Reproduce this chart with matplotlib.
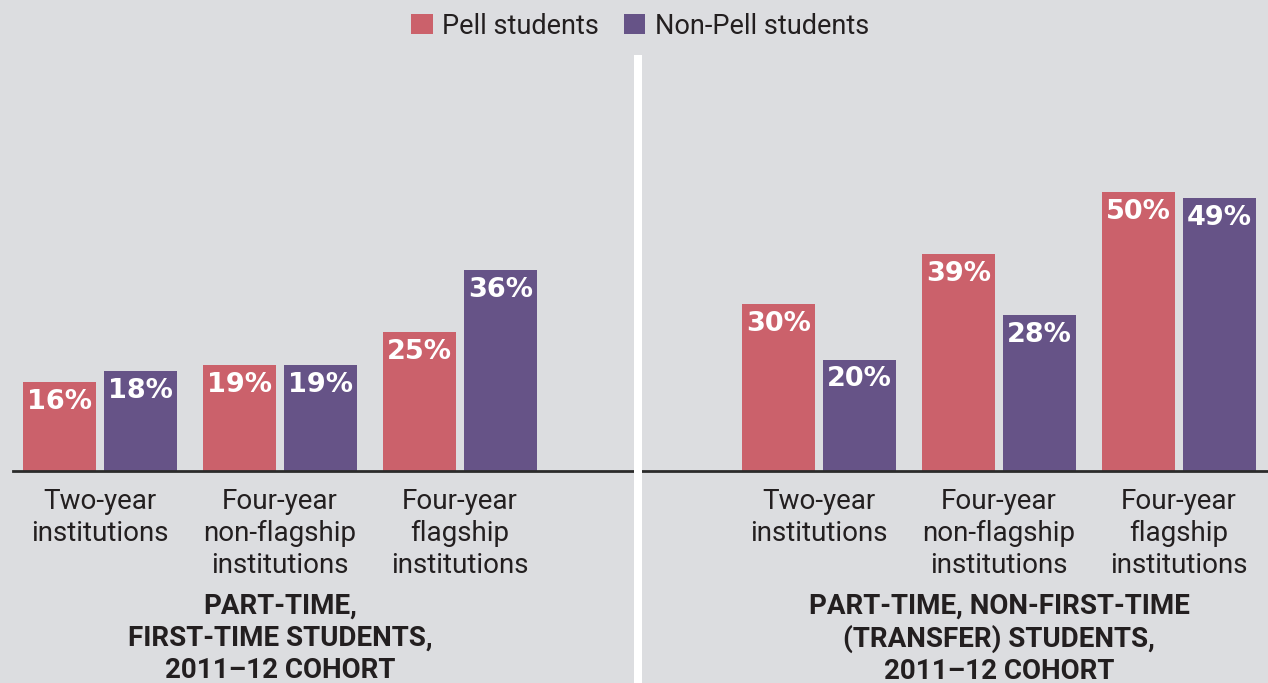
import matplotlib
matplotlib.use("Agg")
import matplotlib.pyplot as plt
from matplotlib.patches import Patch, Rectangle

# ---- data ----
categories = ["Two-year\ninstitutions",
              "Four-year\nnon-flagship\ninstitutions",
              "Four-year\nflagship\ninstitutions"]
panel_titles = ["PART-TIME,\nFIRST-TIME STUDENTS,\n2011\u201312 COHORT",
                "PART-TIME, NON-FIRST-TIME\n(TRANSFER) STUDENTS,\n2011\u201312 COHORT"]
series_names = ["Pell students", "Non-Pell students"]
pell_first_time = [16, 19, 25]
nonpell_first_time = [18, 19, 36]
pell_transfer = [30, 39, 50]
nonpell_transfer = [20, 28, 49]

# ---- style ----
BG = "#dcdde0"
PELL = "#cb616b"
NONPELL = "#665387"
TXT = "#231f20"
FONT = ["Roboto", "DejaVu Sans"]
plt.rcParams["font.family"] = FONT

W, H = 1268, 683
fig = plt.figure(figsize=(W / 100, H / 100), dpi=100, facecolor=BG)

base_px = 471
top_px = 55
px_per_unit = 5.575
ytop = (base_px - top_px) / px_per_unit
group_px = 180.0
bar_w = 73 / group_px
off = 40.5 / group_px

panels = [
    dict(x0=13, x1=634, c0=100, pell=pell_first_time, non=nonpell_first_time, title=panel_titles[0]),
    dict(x0=642, x1=1268, c0=819, pell=pell_transfer, non=nonpell_transfer, title=panel_titles[1]),
]

for p in panels:
    ax = fig.add_axes([p["x0"] / W, (H - base_px) / H,
                       (p["x1"] - p["x0"]) / W, (base_px - top_px) / H])
    ax.set_facecolor(BG)
    ax.patch.set_alpha(0)
    ax.set_xlim(-(p["c0"] - p["x0"]) / group_px, (p["x1"] - p["c0"]) / group_px)
    ax.set_ylim(0, ytop)
    xs = list(range(len(categories)))
    b1 = ax.bar([x - off for x in xs], p["pell"], width=bar_w, color=PELL, zorder=2)
    b2 = ax.bar([x + off for x in xs], p["non"], width=bar_w, color=NONPELL, zorder=2)
    for bars, vals in ((b1, p["pell"]), (b2, p["non"])):
        for rect, v in zip(bars, vals):
            ax.annotate(f"{v}%", xy=(rect.get_x() + rect.get_width() / 2, v),
                        xytext=(0, -5), textcoords="offset points",
                        ha="center", va="top", color="white",
                        fontsize=19.5, fontweight="bold",
                        family=["DejaVu Sans"], zorder=3)
    ax.axhline(0, color="#2b2b2b", lw=2, zorder=4, clip_on=False)
    for spine in ax.spines.values():
        spine.set_visible(False)
    ax.set_xticks([])
    ax.set_yticks([])
    for x, lab in zip(xs, categories):
        ax.annotate(lab, xy=(x, 0), xycoords="data",
                    xytext=(0, -12), textcoords="offset points",
                    ha="center", va="top", fontsize=20, color=TXT,
                    linespacing=1.24, annotation_clip=False)
    ax.annotate(p["title"], xy=(1, 0), xycoords="data",
                xytext=(0, -87.5), textcoords="offset points",
                ha="center", va="top", fontsize=20, fontweight="bold",
                color=TXT, linespacing=1.25, multialignment="center",
                annotation_clip=False)

# white divider
fig.add_artist(Rectangle((634 / W, 0), 8 / W, (H - top_px) / H,
                         transform=fig.transFigure, color="white", lw=0, zorder=5))

handles = [Patch(facecolor=PELL, edgecolor="none"), Patch(facecolor=NONPELL, edgecolor="none")]
fig.legend(handles, series_names, loc="center", bbox_to_anchor=(0.5 + 6 / W, 1 - 26 / H),
           ncol=2, frameon=False, fontsize=19.5, handlelength=0.8, handleheight=0.8,
           handletextpad=0.35, columnspacing=0.9, labelcolor=TXT, borderaxespad=0)

fig.savefig("out.png", dpi=100, facecolor=BG)
